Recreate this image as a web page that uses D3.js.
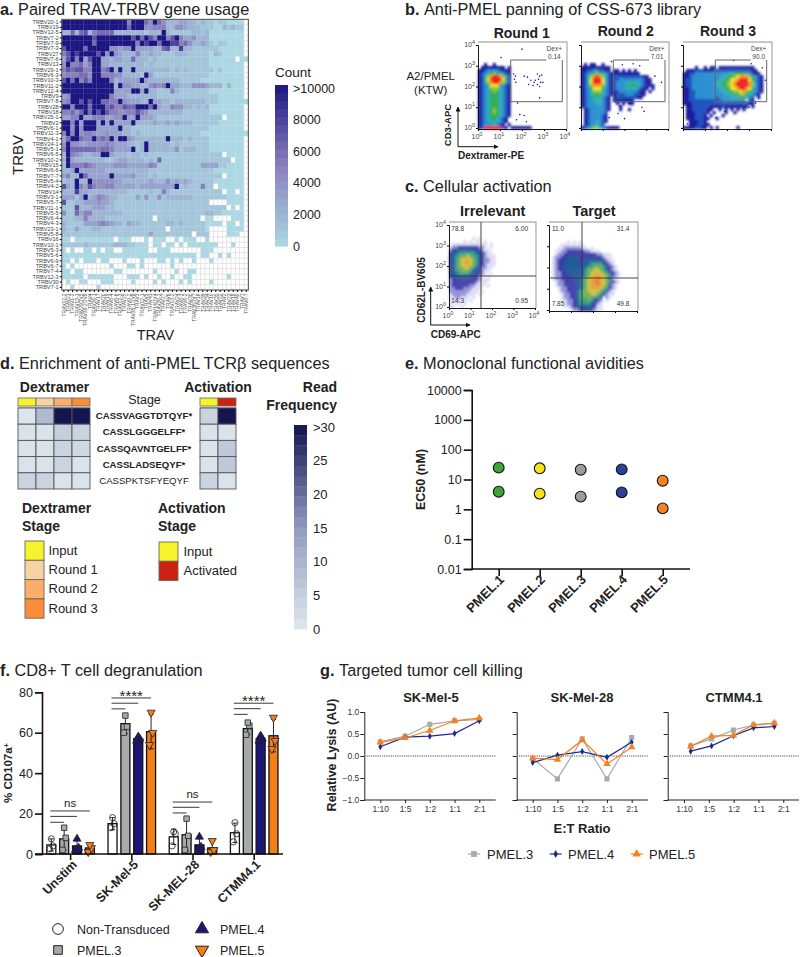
<!DOCTYPE html>
<html>
<head>
<meta charset="utf-8">
<script src="https://cdn.jsdelivr.net/npm/d3@7"></script>
<style>
body { margin: 0; background: #fff; }
text { font-family: "Liberation Sans", Arial, sans-serif; fill: #222; }
</style>
</head>
<body>
<script>
//panel a data
var trbvGenes = ["TRBV20-1","TRBV19","TRBV12-5","TRBV7-2","TRBV7-9","TRBV7-3","TRBV27","TRBV7-6","TRBV13","TRBV29-1","TRBV6-3","TRBV10-3","TRBV11-2","TRBV12-4","TRBV9","TRBV7-8","TRBV28","TRBV18","TRBV25-1","TRBV2","TRBV6-1","TRBV11-3","TRBV4-1","TRBV24-1","TRBV5-1","TRBV6-5","TRBV10-2","TRBV15","TRBV6-6","TRBV7-7","TRBV5-4","TRBV4-2","TRBV14","TRBV3-1","TRBV5-7","TRBV11-1","TRBV5-5","TRBV6-4","TRBV4-3","TRBV23-1","TRBV5-8","TRBV16","TRBV10-1","TRBV5-3","TRBV5-6","TRBV6-9","TRBV6-7","TRBV7-4","TRBV12-3","TRBV30","TRBV7-1"];
var travGenes = ["TRAV12-2","TRAV21","TRAV1-2","TRAV13-1","TRAV29DV5","TRAV38-2DV8","TRAV4","TRAV26-1","TRAV17","TRAV20","TRAV19","TRAV8-4","TRAV8-6","TRAV12-3","TRAV25","TRAV9-2","TRAV38-1DV8","TRAV3","TRAV12-1","TRAV5","TRAV41","TRAV14DV4","TRAV26-2","TRAV27","TRAV6","TRAV13-2","TRAV24","TRAV8-3","TRAV8-2","TRAV30","TRAV36DV7","TRAV16","TRAV39","TRAV34","TRAV10","TRAV35","TRAV22","TRAV2","TRAV23","TRAV18","TRAV40","TRAV7","TRAV8-7"];
// one row per TRBV: digit = thousands of reads, X = >10000, . = no pairs
var heatRows = [
"XXXXXXXXXX XXXXX5XXX6 4X64222332 2121101100 00.",
"XXXXXXXXXX XXXXX6XXX4 4555224432 2211100212 11.",
"2262672566 6622222221 222X211111 2212000000 00.",
"XXXXXXX7XX XXXXXX7X6X 75XX57X533 4222000000 00.",
"XXXXXXX6XX XXXXXXX5X8 XX6XX88564 2232101100 00.",
"7XXXX6XXXX X44344X333 3226722822 1111110000 00.",
"57X8XXXX7X 4X43222522 3221112221 1111021000 00.",
"37X5X37XX3 3233226222 1211111111 1111000000 .00",
"4X55635XX3 3222222221 2111111111 1111000000 00.",
"5767755XX5 6X2X22X222 2222212121 1111101000 00.",
"4555664XX5 554422221X 3111111111 1111000000 00.",
"7X6X575XXX X5233333X3 2222222111 1100000000 00.",
"XXXXXXXXXX XX2X443322 4545X33222 4443222020 00.",
"XXXXXXXXXX XX3333XX3X 2211152111 1111000000 00.",
"34XXXXXXXX X533322222 2211111111 1111110000 00.",
"45XX7X7XX6 655X433322 X332212222 2221110000 000",
"XX5XXX6XXX 6755766XXX 6X32254422 1212000000 00.",
"55646X6X7X 7554455754 2222222211 1111000000 00.",
"3355X33555 3344X33X33 3211111111 1111111.00 00.",
"XX5X3XXX3X 3X3333X222 2322323222 1111110000 00.",
"XX4X4XXX33 333X221111 1111111111 1111000000 00.",
"5X5X455433 4333221211 1111111111 1100000000 000",
"36XX655X56 5X3XX43222 2222X22212 1111000000 00.",
"4X44334444 543332212X 2222212111 1111000000 00.",
"5X66666656 653333X12X 2222224122 2111000000 00.",
"2X5432233X X322212212 1111111111 1111111.00 00.",
"2X32222222 1123322221 2161111111 111111111. 00.",
"2X55565433 3344433333 5411111111 1133331100 00.",
"223X333333 2222222222 1111111111 1111100000 00.",
"3522X63333 3X33334222 1211111111 1111111.00 00.",
"122X22X444 4433222222 3222423232 1111100000 00.",
"732X537544 5533333233 333333X121 11511.0000 00.",
"2228332222 2222211111 2115211111 1111111.00 .0.",
"3331 3X2354 3221111314 1141222222 1111111100 00.",
"7112233343 3211111111 1111111111 1111....00 00.",
"1117222333 2211111111 1111111111 11111111.0 .0.",
"4116355222 2222111111 1111111111 1112211000 00.",
"1112252222 1111111111 1.11111111 11.00....0 00.",
"2111133345 4322132211 1111221211 1110000.00 .0.",
"2113111221 1111111111 1111.11111 1110....00 00.",
"1111111111 1111111111 3111111111 .111....00 0..",
"00.0000000 00.000...0 .000..0.00 0..0...... ...",
"1111121111 1122211000 .00.00.0.0 000000...0 ...",
"0.0..00.0. 00..000000 ..000..... ..000..... ...",
"0000000000 0000000000 0000000000 0.00..0.0. ...",
"00.0.000.0 0...0...0. ..00.0.0.. 0...0..... ...",
"0.0....... .0...00.0. .....0.... .......... ...",
"00.00..... ..00...... .0....0..0 0......... ...",
"00000.0000 00...000.0 ..0..0..00 ........0. ...",
".0..00...0 00....0... .0.0...0.0 ....0..... ...",
"..0.....0. .......... .......... .......... ..."
];
var countTicks = [0, 2000, 4000, 6000, 8000, 10000];
var countColors = ["#abd8e2", "#8a80bd", "#1c1682"];

//panel b data: one string per 3px row of the plot, level 1 (sparse) to 9 (dense)
var round1Grid = ["","","","","","","","..1..1",".11111111.1","11233332111","12345654321","12468998642","12579999752","12468998642","12357775321","12346664321","12345654321","12345554321","12345554321","12345554321","12345554321","12345554321","12345654321","12345654321","12345554321","1234554321","1234444321","123334321.1","1299999921.1111111"];
var round2Grid = ["","","","","","","",".1.11..1","1111111111","1122332211.11.1.1.1","12345654321111111111","12468986421222222222211","124799974212233333333211","124799974212333444443211","1246888642123334555432111","12357775321233344443211.1","1234666432112333333211.1","1234555432112223332211","1233454321.1222222211","1233444321.1111111","1233344321..1.1.11","1233333321...1",".123333321...1..1",".12333332",".12333321",".12333321",".12334321",".1233432","1235664321111"];
var round3Grid = ["","","","","","","","","....1..1.11.111111111111",".111222111222222222222211","11223333333333344555543211","112333333333344556788865321","122333333333445577899975321","122333333334455678999986321","122333333334455678999986421","112333333333445577899875321","112233333333344556678654321","11223333333333444556654321","112233333332333344455432.1","112222222222233333333.21","111222222222222222222211",".112222221111211111111.1",".112222211..1.1.1.1.1",".11122221.1...1..1",".1112221.1...1",".11122211..1","..111221.","..1112211","11112211.1.1......1"];
// stray events outside the main population, log10 of [Dextramer, CD3]
var round1Dots = [[2,3.8],[1.05,3.4],[1.7,2.5],[1.62,2.6],[1.65,2.35],[1.72,2.2],[2.1,2.5],[2.25,2.45],[2.4,2.3],[2.3,2.1],[2.55,2.2],[2.6,2.3],[2.7,2.1],[2.75,2.35],[2.85,2.2],[2.9,2.55],[2.8,2.5],[2.7,2.6],[2.95,2.2],[2.8,2],[2.5,2.05],[2.8,1.45],[1.8,1.2],[1.9,.65],[2.1,.6],[2.2,.3],[1.75,.4]];
var round2Dots = [[1.4,3.2],[1.9,3.05],[2.4,3.1],[2.7,3],[3.7,2.2],[3.4,2.5],[1.6,1.25],[1.8,1.05],[2.2,1.2],[2.8,1],[2.9,.8],[1.7,.7],[1.3,.5],[2,.45]];
var round3Dots = [[2.3,3.25],[3.1,3.1],[3.6,2.9],[3.75,2.3],[1.5,.5],[1.9,.8],[2.2,1],[2.6,1.1],[3,1],[3.3,1.2],[.2,.2],[.5,.3]];
var dexLabels = ["0.14", "7.01", "90.0"];
var roundNames = ["Round 1", "Round 2", "Round 3"];

//panel c data
var irrelevantGrid = ["","","","","","........1.1",".....1.1.11.1",".111111111111.1","1223333333221.1","23344444433211","344555555443211","3455667655432111","3456778765432211","3456788765432211","3456778765432111","345667765432211","34556665443211","3445555443321.1","344444443321.1","23333333332111","2333333332111","233333322111.1","22333222111","2222222111.1","122222111.1","1122111.1","111111.1","1.11.1","11..1"];
var targetGrid = ["","","","","","","......1.1.1","....11111111","...1122222211.1","..112233333322111","..1223333333333322111",".12233444433333333211",".123344444344444443211",".123344444344455554321",".1233444443445566654321",".1233444444456677654321",".12233444444567777654321",".12233344444567888765321",".1223333444567889876421","..1223333445678998765321","..122333344567889876421","...12233334567888765321","...1223334566777765321","....122334566677654211","....12233456666554.21","....11223455565432.1",".....1223455554321",".....1123444444311",".......12233333211"];
var irrelevantPct = ["78.8", "6.00", "14.3", "0.95"];
var targetPct = ["11.0", "31.4", "7.85", "49.8"];

//panel d data
var sequences = ["CASSVAGGTDTQYF*", "CASSLGGGELFF*", "CASSQAVNTGELFF*", "CASSLADSEQYF*", "CASSPKTSFYEQYF"];
var dexFreq = [[0.5,9,30,30],[1,1,5,4],[1,1,4,3],[1,1,4,1],[4,4,1,1]];
var actFreq = [[4,30],[1,1],[1,6],[1,6],[4,1]];
var dexStages = ["Input", "Round 1", "Round 2", "Round 3"];
var dexStageColors = ["#f7f32a", "#f6d2a5", "#fbae6b", "#f98d38"];
var actStages = ["Input", "Activated"];
var actStageColors = ["#f7f32a", "#cc2211"];
var freqTicks = [0, 5, 10, 15, 20, 25, 30];
var freqColors = ["#dfe8ec", "#8f9abf", "#14144f"];

//panel e data
var clones = ["PMEL.1", "PMEL.2", "PMEL.3", "PMEL.4", "PMEL.5"];
var ec50High = [25, 23.7, 21.3, 21.9, 9.1];
var ec50Low = [3.9, 3.35, 2.66, 3.7, 1.08];
var cloneColors = ["#3da535", "#f7e31a", "#9c9c9e", "#2a409b", "#f5821f"];
var ec50Ticks = [0.01, 0.1, 1, 10, 100, 1000, 10000];

//panel f data
var targets = ["Unstim", "SK-Mel-5", "SK-MEL-28", "CTMM4.1"];
var groups = ["Non-Transduced", "PMEL.3", "PMEL.4", "PMEL.5"];
var groupColors = ["#ffffff", "#a7a9ac", "#1b1677", "#f57f17"];
var barMeans = [[4.5,15,8.5,10.5],[7.5,64.5,9.5,62],[4,57,4.5,57],[3,60.5,3,58.5]];
var barErrs = [[3,3,3.8,4.8],[5.5,5,8,3],[3.5,1,4,1],[2,8.5,3.5,8]];
var barPoints = [
  [[2.5,4,7.5],[13,15,18],[4,10,11],[6,10,15.5]],
  [[2,8,13],[60,63,68.5],[2,9,17.5],[59,63.5,65]],
  [[2,3,7.5],[56,57,58],[1,3.5,8.5],[56,57,58.5]],
  [[1,3,4.5],[54,60,70],[1,2,6.5],[52,56,67.5]]
];
var sigLevels = [[15.7,18.6,21.3],[71.8,74.6,77.2],[20.3,23.1,25.7],[69.1,71.9,74.6]];
var sigText = ["ns", "****", "ns", "****"];

//panel g data
var ratios = ["1:10", "1:5", "1:2", "1:1", "2:1"];
var lysisCells = ["SK-Mel-5", "SK-Mel-28", "CTMM4.1"];
var lysisClones = ["PMEL.3", "PMEL.4", "PMEL.5"];
var lysisColors = ["#a7a9ac", "#1f2a8c", "#f58220"];
var lysisTicks = [-1, -0.5, 0, 0.5, 1];
var lysisPos = [[0,1,2,3,4],[0,1,2,3,4],[.27,1.11,1.99,2.8,3.64]];
var lysis = [
  [[.32,.45,.72,.8,.83],[.21,.43,.45,.51,.8],[.31,.41,.58,.8,.86]],
  [[-.06,-.52,.39,-.52,.42],[-.15,.02,.1,-.03,.31],[-.05,-.08,.36,-.18,.2]],
  [[.23,.39,.59,.7,.74],[.11,.23,.46,.64,.67],[.22,.45,.47,.71,.75]]
];

var svg = d3.select("body").append("svg").attr("width", 800).attr("height", 957);

var defs = svg.append("defs");
defs.append("marker").attr("id", "arrow").attr("viewBox", "0 0 10 10").attr("refX", 9).attr("refY", 5)
    .attr("markerWidth", 5).attr("markerHeight", 5).attr("orient", "auto")
    .append("path").attr("d", "M0,0L10,5L0,10z").attr("fill", "#111");
defs.append("filter").attr("id", "soft").attr("x", "-5%").attr("y", "-5%").attr("width", "110%").attr("height", "110%")
    .append("feGaussianBlur").attr("stdDeviation", 0.9);

function label(x, y, str, size, opts) {
  opts = opts || {};
  var t = svg.append("text").attr("x", x).attr("y", y).attr("font-size", size).text(str);
  if (opts.bold) t.attr("font-weight", "bold");
  if (opts.anchor) t.attr("text-anchor", opts.anchor);
  if (opts.rotate) t.attr("transform", "rotate(" + opts.rotate + "," + x + "," + y + ")");
  if (opts.fill) t.style("fill", opts.fill);
  return t;
}

function title(x, y, letter, rest) {
  var t = svg.append("text").attr("x", x).attr("y", y).attr("font-size", 16.3);
  t.append("tspan").attr("font-weight", "bold").text(letter + " ");
  t.append("tspan").text(rest);
}

title(0, 15, "a.", "Paired TRAV-TRBV gene usage");
title(405, 15, "b.", "Anti-PMEL panning of CSS-673 library");
title(405, 192, "c.", "Cellular activation");
title(0, 369, "d.", "Enrichment of anti-PMEL TCR\u03b2 sequences");
title(405, 369, "e.", "Monoclonal functional avidities");
title(0, 676, "f.", "CD8+ T cell degranulation");
title(320, 676, "g.", "Targeted tumor cell killing");

/* ---------- a. heatmap ---------- */
var heatX = d3.scaleBand().domain(travGenes).range([61.7, 248.4]);
var heatY = d3.scaleBand().domain(trbvGenes).range([19.4, 290]);
var countColor = d3.scaleLinear().domain([0, 5000, 10000]).range(countColors);

var heatCells = [];
heatRows.forEach(function(row, r) {
  row.replace(/ /g, "").split("").forEach(function(ch, c) {
    if (c >= travGenes.length) return;
    heatCells.push({ r: trbvGenes[r], c: travGenes[c], v: ch == "." ? null : (ch == "X" ? 10000 : +ch * 1000) });
  });
});

svg.append("g").selectAll("rect").data(heatCells).enter().append("rect")
    .attr("x", function(d) { return heatX(d.c); })
    .attr("y", function(d) { return heatY(d.r); })
    .attr("width", heatX.bandwidth() + (0.2))
    .attr("height", heatY.bandwidth() + (0.2))
    .attr("fill", function(d) { return d.v === null ? "#fff" : countColor(d.v); })
    .attr("stroke", function(d) { return d.v === null ? "#e2e2e2" : "none"; })
    .attr("stroke-width", 0.8);

svg.append("rect").attr("x", 61.7).attr("y", 19.4).attr("width", 186.7).attr("height", 270.6)
    .attr("fill", "none").attr("stroke", "#666").attr("stroke-width", 1.2);

var heatLeft = svg.append("g").attr("transform", "translate(61.7,0)")
    .call(d3.axisLeft(heatY).tickSize(2).tickPadding(1));
heatLeft.select(".domain").remove();
heatLeft.selectAll("text").attr("font-size", 5.6).style("font-family", "Liberation Sans").style("fill", "#444");

var heatBottom = svg.append("g").attr("transform", "translate(0,290)")
    .call(d3.axisBottom(heatX).tickSize(2));
heatBottom.select(".domain").remove();
heatBottom.selectAll("text")
    .attr("transform", "rotate(-90)").attr("x", -3.5).attr("y", 0).attr("dy", "0.35em")
    .attr("text-anchor", "end").attr("font-size", 5).style("font-family", "Liberation Sans").style("fill", "#555");

label(23, 155, "TRBV", 15, { anchor: "middle", rotate: -90 });
label(155.5, 340, "TRAV", 14.5, { anchor: "middle" });
label(275, 77, "Count", 13.5);

var countY = d3.scaleLinear().domain([0, 10000]).range([246, 88]);
var countBins = d3.range(0, 10000, 500);
svg.append("g").selectAll("rect").data(countBins).enter().append("rect")
    .attr("x", 275).attr("width", 13)
    .attr("y", function(d) { return countY(d + 500) - 3 * (d + 500) / 10000 + 0; })
    .attr("height", 8.6)
    .attr("fill", function(d) { return countColor(d + 250); });
svg.append("g").selectAll("text").data(countTicks).enter().append("text")
    .attr("x", 293).attr("y", function(d) { return countY(d) + 4.5; })
    .attr("font-size", 12.5)
    .text(function(d) { return d == 10000 ? ">10000" : d; });

/* ---------- b, c. flow plots ---------- */
var flowPalette = ["", "#1a1a9c", "#2452c0", "#2a8fd0", "#2bb0b8", "#35ad5a", "#8cc63f", "#f0e31c", "#f8931d", "#ed1c24"];
var softPalette = ["", "#dcdcf2", "#8f8fd8", "#3a3aa8", "#1f5a98", "#2f9a88", "#6aae50", "#c8c038", "#e89a30", "#e07a28"];

function flowPanel(o) {
  var g = svg.append("g");
  var cellW = (o.x1 - o.x0) / 30, cellH = (o.y1 - o.y0) / 29;
  var cells = [];
  o.grid.forEach(function(row, r) {
    row.split("").forEach(function(ch, c) {
      if (ch != "." && ch != " ") cells.push({ r: r, c: c, l: +ch });
    });
  });
  g.append("g").attr("filter", "url(#soft)").selectAll("rect").data(cells).enter().append("rect")
      .attr("x", function(d) { return o.x0 + d.c * cellW; })
      .attr("y", function(d) { return o.y0 + d.r * cellH; })
      .attr("width", cellW + 0.2).attr("height", cellH + 0.2)
      .attr("fill", function(d) { return o.palette[d.l]; });

  var x = d3.scaleLog().domain([1, 10000]).range([o.x0, o.x1 - 1]);
  var y = d3.scaleLog().domain([1, 10000]).range([o.y1 - 1, o.y0 + 3]);

  if (o.dots) {
    g.selectAll("circle").data(o.dots).enter().append("circle")
        .attr("cx", function(d) { return x(Math.pow(10, d[0])); })
        .attr("cy", function(d) { return y(Math.pow(10, d[1])); })
        .attr("r", 0.8).attr("fill", "#1a1a9c");
  }

  // gray top/right frame, black left/bottom with ticks
  g.append("path").attr("d", "M" + o.x0 + "," + o.y0 + "H" + o.x1 + "V" + o.y1)
      .attr("fill", "none").attr("stroke", "#b5b5b5").attr("stroke-width", 1.4);
  var decades = [1, 10, 100, 1000, 10000];
  var ax = g.append("g").attr("transform", "translate(0," + o.y1 + ")")
      .call(d3.axisBottom(x).tickValues(decades).tickSize(2).tickFormat(""));
  var ay = g.append("g").attr("transform", "translate(" + o.x0 + ",0)")
      .call(d3.axisLeft(y).tickValues(decades).tickSize(2).tickFormat(""));
  ax.select(".domain").attr("stroke-width", 0.9);
  ay.select(".domain").attr("stroke-width", 0.9);

  if (o.tickLabels) {
    decades.forEach(function(v, i) {
      var tx = svg.append("text").attr("x", x(v) - 1).attr("y", o.y1 + 10)
          .attr("font-size", 7).attr("text-anchor", "middle").style("fill", "#444").text("10");
      tx.append("tspan").attr("dy", -3).attr("font-size", 5.5).style("fill", "#444").text(i);
      var ty = svg.append("text").attr("x", o.x0 - 3).attr("y", y(v) + 2)
          .attr("font-size", 7).attr("text-anchor", "end").style("fill", "#444").text("10");
      ty.append("tspan").attr("dy", -3).attr("font-size", 5.5).style("fill", "#444").text(i);
    });
  }
  return { x: x, y: y, g: g };
}

function gate(x0, x1, labelText) {
  var y0 = 60, y1 = 101.7;
  svg.append("path").attr("d", "M" + (x1 - 16) + "," + y0 + "H" + x0 + "V" + y1 + "H" + x1 + "V" + y0)
      .attr("fill", "none").attr("stroke", "#666").attr("stroke-width", 1);
  label(x1 - 8, 50.5, "Dex+", 6.5, { anchor: "middle", fill: "#444" });
  label(x1 - 8, 59, labelText, 6.5, { anchor: "middle", fill: "#444" });
}

flowPanel({ x0: 478, x1: 567, y0: 42, y1: 129, grid: round1Grid, dots: round1Dots, palette: flowPalette, tickLabels: true });
flowPanel({ x0: 581, x1: 669, y0: 42, y1: 129, grid: round2Grid, dots: round2Dots, palette: flowPalette });
flowPanel({ x0: 683, x1: 772, y0: 42, y1: 129, grid: round3Grid, dots: round3Dots, palette: flowPalette });
gate(510.7, 562.3, dexLabels[0]);
gate(613.3, 665, dexLabels[1]);
gate(715.3, 766.7, dexLabels[2]);

label(521.7, 38, roundNames[0], 14, { bold: true, anchor: "middle" });
label(625.7, 36, roundNames[1], 14, { bold: true, anchor: "middle" });
label(728, 36, roundNames[2], 14, { bold: true, anchor: "middle" });
label(430.7, 80, "A2/PMEL", 11.5, { anchor: "middle" });
label(430.7, 94, "(KTW)", 11.5, { anchor: "middle" });
label(451, 125, "CD3-APC", 9.5, { bold: true, anchor: "middle", rotate: -90 });
label(458, 159, "Dextramer-PE", 10, { bold: true });
svg.append("path").attr("d", "M458,146.7V107").attr("stroke", "#111").attr("stroke-width", 1).attr("marker-end", "url(#arrow)");
svg.append("path").attr("d", "M458,146.7H498").attr("stroke", "#111").attr("stroke-width", 1).attr("marker-end", "url(#arrow)");

function quadrants(p, vx, hy, pct, xs, ys) {
  svg.append("path").attr("d", "M" + vx + "," + p.y0 + "V" + p.y1 + "M" + p.x0 + "," + hy + "H" + p.x1)
      .attr("stroke", "#333").attr("stroke-width", 0.9).attr("fill", "none");
  pct.forEach(function(s, i) {
    label(xs[i % 2], ys[i < 2 ? 0 : 1], s, 6.5, { anchor: "middle", fill: "#333" });
  });
}

var irrBox = { x0: 449, x1: 536, y0: 222, y1: 308, grid: irrelevantGrid, palette: softPalette, tickLabels: true };
var tarBox = { x0: 549, x1: 638, y0: 222, y1: 311, grid: targetGrid, palette: softPalette };
flowPanel(irrBox);
flowPanel(tarBox);
quadrants(irrBox, 481, 276, irrelevantPct, [457.7, 521.7], [231, 303]);
quadrants(tarBox, 582, 278, targetPct, [558, 623], [231, 306]);

label(492.7, 216, "Irrelevant", 14.5, { bold: true, anchor: "middle" });
label(594, 216, "Target", 14.5, { bold: true, anchor: "middle" });
label(425, 290, "CD62L-BV605", 10, { bold: true, anchor: "middle", rotate: -90 });
label(430.7, 337.7, "CD69-APC", 10, { bold: true });
svg.append("path").attr("d", "M430.7,325V287").attr("stroke", "#111").attr("stroke-width", 1).attr("marker-end", "url(#arrow)");
svg.append("path").attr("d", "M430.7,325H470").attr("stroke", "#111").attr("stroke-width", 1).attr("marker-end", "url(#arrow)");

/* ---------- d. TCR beta heatmap ---------- */
var freqColor = d3.scaleLinear().domain([0, 15, 30]).range(freqColors);
var rowY = d3.scaleBand().domain(sequences).range([408, 489]);
var dexX = d3.scaleBand().domain(dexStages).range([18, 90]);
var actX = d3.scaleBand().domain(actStages).range([200, 236]);

function freqBlock(xScale, stages, colors, values) {
  svg.append("g").selectAll("rect").data(stages).enter().append("rect")
      .attr("x", function(d) { return xScale(d); })
      .attr("y", 398).attr("width", xScale.bandwidth()).attr("height", 8)
      .attr("fill", function(d, i) { return colors[i]; })
      .attr("stroke", "#666").attr("stroke-width", 0.8);
  svg.append("rect").attr("x", xScale.range()[0]).attr("y", 406).attr("height", 2)
      .attr("width", xScale.range()[1] - xScale.range()[0]).attr("fill", "#bbb");
  var rows = svg.append("g").selectAll("g").data(values).enter().append("g")
      .attr("transform", function(d, i) { return "translate(0," + rowY(sequences[i]) + ")"; });
  rows.selectAll("rect").data(function(d) { return d; }).enter().append("rect")
      .attr("x", function(d, i) { return xScale(stages[i]); })
      .attr("width", xScale.bandwidth()).attr("height", rowY.bandwidth())
      .attr("fill", function(d) { return freqColor(d); })
      .attr("stroke", "#555").attr("stroke-width", 0.9);
}
freqBlock(dexX, dexStages, dexStageColors, dexFreq);
freqBlock(actX, actStages, actStageColors, actFreq);

label(54.5, 392, "Dextramer", 14, { bold: true, anchor: "middle" });
label(218, 392, "Activation", 14, { bold: true, anchor: "middle" });
label(144.5, 404, "Stage", 12.5, { anchor: "middle" });
svg.append("g").selectAll("text").data(sequences).enter().append("text")
    .attr("x", 144).attr("y", function(d) { return rowY(d) + rowY.bandwidth() / 2 + 3; })
    .attr("text-anchor", "middle").attr("font-size", 9.6)
    .attr("font-weight", function(d) { return d.indexOf("*") > 0 ? "bold" : "normal"; })
    .text(function(d) { return d; });

label(22, 513, "Dextramer", 14, { bold: true });
label(22, 531, "Stage", 14, { bold: true });
label(158, 513, "Activation", 14, { bold: true });
label(158, 531, "Stage", 14, { bold: true });

function stageLegend(x, y0, h, names, colors, tx) {
  var yy = d3.scaleBand().domain(names).range([y0, y0 + h * names.length]);
  svg.append("g").selectAll("rect").data(names).enter().append("rect")
      .attr("x", x).attr("y", function(d) { return yy(d); })
      .attr("width", 19).attr("height", yy.bandwidth())
      .attr("fill", function(d, i) { return colors[i]; })
      .attr("stroke", "#666").attr("stroke-width", 0.9);
  svg.append("g").selectAll("text").data(names).enter().append("text")
      .attr("x", tx).attr("y", function(d) { return yy(d) + yy.bandwidth() / 2 + 4; })
      .attr("font-size", 13).text(function(d) { return d; });
}
stageLegend(25, 541, 19.3, dexStages, dexStageColors, 48.5);
stageLegend(159, 542, 19.3, actStages, actStageColors, 183.5);

label(337, 392, "Read", 14, { bold: true, anchor: "end" });
label(337, 410, "Frequency", 14, { bold: true, anchor: "end" });

var freqY = d3.scaleLinear().domain([0, 30]).range([629, 427]);
var freqBins = d3.range(0, 30, 1.5);
svg.append("g").selectAll("rect").data(freqBins).enter().append("rect")
    .attr("x", 294).attr("width", 13)
    .attr("y", function(d) { return freqY(d + 1.5) - 2.0 * (d + 1.5) / 30 - 0; })
    .attr("height", 10.5)
    .attr("fill", function(d) { return freqColor(d + 0.75); });
svg.append("g").selectAll("text").data(freqTicks).enter().append("text")
    .attr("x", 313).attr("y", function(d) { return freqY(d) + 4.5; })
    .attr("font-size", 13)
    .text(function(d) { return d == 30 ? ">30" : d; });

/* ---------- e. EC50 ---------- */
var ecX = d3.scalePoint().domain(clones).range([498.7, 662.7]);
var ecY = d3.scaleLog().domain([0.01, 10000]).range([569, 390]);

var ecAxisY = svg.append("g").attr("transform", "translate(471.7,0)")
    .call(d3.axisLeft(ecY).tickValues(ec50Ticks).tickSize(8).tickPadding(2).tickFormat(function(d) { return d; }));
var ecAxisX = svg.append("g").attr("transform", "translate(0,569)")
    .call(d3.axisBottom(ecX).tickSize(7).tickPadding(3));
ecAxisX.select(".domain").attr("d", "M471.7,0H690");
[ecAxisX, ecAxisY].forEach(function(a) {
  a.selectAll("line,path").attr("stroke-width", 1.6).attr("stroke", "#111");
});
ecAxisY.selectAll("text").attr("font-size", 12.5).style("font-family", "Liberation Sans").style("fill", "#222");
ecAxisX.selectAll("text").attr("font-size", 13).attr("font-weight", "bold")
    .style("font-family", "Liberation Sans").style("fill", "#222")
    .attr("text-anchor", "end").attr("transform", "rotate(-45)").attr("x", -4).attr("y", 12).attr("dy", 0);

[ec50High, ec50Low].forEach(function(series) {
  svg.append("g").selectAll("circle").data(series).enter().append("circle")
      .attr("cx", function(d, i) { return ecX(clones[i]); })
      .attr("cy", function(d) { return ecY(d); })
      .attr("r", 5.4)
      .attr("fill", function(d, i) { return cloneColors[i]; })
      .attr("stroke", "#111").attr("stroke-width", 1.1);
});
label(425, 479.5, "EC50 (nM)", 12.5, { bold: true, anchor: "middle", rotate: -90 });

/* ---------- f. degranulation ---------- */
var fx = d3.scaleBand().domain(targets).range([40, 284.8]);
var fInner = d3.scaleBand().domain(groups).range([0, 51.4]).paddingInner(0.3).paddingOuter(0.15);
var fy = d3.scaleLinear().domain([0, 80]).range([854, 692.3]);
var shapes = [d3.symbolCircle, d3.symbolSquare, d3.symbolTriangle, d3.symbolTriangle];
var sizes = [30, 30, 28, 28];
var jitter = [-1.6, 1.6, 0];

function barX(t, g) { return fx(targets[t]) + fx.bandwidth() / 2 - 25.7 + fInner(groups[g]); }

groups.forEach(function(name, g) {
  var lay = svg.append("g");
  lay.selectAll("rect").data(barMeans[g]).enter().append("rect")
      .attr("x", function(d, t) { return barX(t, g); })
      .attr("y", function(d) { return fy(d); })
      .attr("width", fInner.bandwidth())
      .attr("height", function(d) { return fy(0) - fy(d); })
      .attr("fill", groupColors[g]).attr("stroke", "#111").attr("stroke-width", 1.3);
  // error bars
  lay.selectAll("path.err").data(barMeans[g]).enter().append("path").attr("class", "err")
      .attr("d", function(d, t) {
        var cx = barX(t, g) + fInner.bandwidth() / 2, e = barErrs[g][t];
        return "M" + (cx - 2.5) + "," + fy(d + e) + "H" + (cx + 2.5) + "M" + cx + "," + fy(d + e) + "V" + fy(Math.max(0, d - e)) + "M" + (cx - 2.5) + "," + fy(Math.max(0, d - e)) + "H" + (cx + 2.5);
      })
      .attr("fill", "none").attr("stroke", "#111").attr("stroke-width", 0.9);
  barPoints[g].forEach(function(pts, t) {
    lay.selectAll("path.pt" + t).data(pts).enter().append("path").attr("class", "pt" + t)
        .attr("d", d3.symbol().type(shapes[g]).size(sizes[g]))
        .attr("transform", function(d, i) {
          var cx = barX(t, g) + fInner.bandwidth() / 2 + jitter[i];
          return "translate(" + cx + "," + fy(d) + ")" + (g == 3 ? " rotate(180)" : "");
        })
        .attr("fill", g == 0 ? "none" : groupColors[g])
        .attr("stroke", "#222").attr("stroke-width", 0.8);
  });
});

var fAxisY = svg.append("g").attr("transform", "translate(42,0)")
    .call(d3.axisLeft(fy).tickValues([0, 20, 40, 60, 80]).tickSize(7).tickPadding(2));
var fAxisX = svg.append("g").attr("transform", "translate(0,854)")
    .call(d3.axisBottom(fx).tickSize(6));
fAxisX.select(".domain").attr("d", "M35,0H283");
[fAxisX, fAxisY].forEach(function(a) { a.selectAll("line,path").attr("stroke-width", 1.6).attr("stroke", "#111"); });
fAxisY.selectAll("text").attr("font-size", 12.5).style("font-family", "Liberation Sans").style("fill", "#222");
fAxisX.selectAll("text").attr("font-size", 12.5).attr("font-weight", "bold")
    .style("font-family", "Liberation Sans").style("fill", "#222")
    .attr("text-anchor", "end").attr("transform", "rotate(-45)").attr("x", -3).attr("y", 13).attr("dy", 0);

sigLevels.forEach(function(levels, t) {
  var x0 = barX(t, 0) + fInner.bandwidth() / 2 - 1;
  levels.forEach(function(v, i) {
    var x1 = barX(t, i + 1) + fInner.bandwidth() / 2 + 0;
    svg.append("line").attr("x1", x0).attr("x2", x1).attr("y1", fy(v)).attr("y2", fy(v))
        .attr("stroke", "#222").attr("stroke-width", 0.9);
  });
  var mid = (x0 + barX(t, 3) + fInner.bandwidth() / 2) / 2;
  if (sigText[t] == "ns") label(mid, fy(levels[2]) - 4, sigText[t], 11.5, { anchor: "middle" });
  else label(mid, fy(levels[2]) + 3, sigText[t], 15, { anchor: "middle" });
});

var yLab = label(12, 773, "% CD107a", 11.5, { bold: true, anchor: "middle", rotate: -90 });
yLab.append("tspan").attr("dy", -3).attr("font-size", 7.5).text("+");

var fLegend = [[58, 929], [58, 950], [202, 929], [202, 950]];
groups.forEach(function(name, g) {
  svg.append("path").attr("d", d3.symbol().type(shapes[g]).size(g == 0 ? 90 : 75))
      .attr("transform", "translate(" + fLegend[g][0] + "," + fLegend[g][1] + ")" + (g == 3 ? " rotate(180)" : ""))
      .attr("fill", groupColors[g]).attr("stroke", "#222").attr("stroke-width", 1);
  label(fLegend[g][0] + (g < 2 ? 19 : 18), fLegend[g][1] + 4.5, name, 12.5);
});

/* ---------- g. killing ---------- */
var lysisRanges = [[380.3, 479.3], [532.7, 631.7], [684, 783.3]];
var lysisAxisX = [364.3, 516.7, 667.7];
var lysisEnd = [495.7, 648, 799];
var titleX = [431, 582, 734];
var ly = d3.scaleLinear().domain([-1, 1]).range([800, 712]);
var lysisShapes = [d3.symbolSquare, d3.symbolDiamond, d3.symbolTriangle];
var lysisSizes = [26, 14, 24];

lysisCells.forEach(function(cell, p) {
  var lx = d3.scaleLinear().domain([0, 4]).range(lysisRanges[p]);
  var xAxis = svg.append("g").attr("transform", "translate(0,800)")
      .call(d3.axisBottom(lx).tickValues(d3.range(ratios.length)).tickSize(3).tickPadding(3)
        .tickFormat(function(d) { return ratios[d]; }));
  xAxis.select(".domain").attr("d", "M" + lysisAxisX[p] + ",0H" + lysisEnd[p]);
  var yAxis = svg.append("g").attr("transform", "translate(" + lysisAxisX[p] + ",0)")
      .call(d3.axisLeft(ly).tickValues(lysisTicks).tickSize(4).tickPadding(1)
        .tickFormat(function(d) { return p == 0 ? d3.format(".1f")(d) : ""; }));
  [xAxis, yAxis].forEach(function(a) {
    a.selectAll("line,path").attr("stroke", "#222").attr("stroke-width", 1);
    a.selectAll("text").attr("font-size", 8.5).style("font-family", "Liberation Sans").style("fill", "#333");
  });
  svg.append("line").attr("x1", lysisAxisX[p]).attr("x2", lysisEnd[p]).attr("y1", ly(0)).attr("y2", ly(0))
      .attr("stroke", "#888").attr("stroke-width", 1.4).attr("stroke-dasharray", "1.2,1");

  lysisClones.forEach(function(name, s) {
    var line = d3.line().x(function(d, i) { return lx(lysisPos[p][i]); }).y(function(d) { return ly(d); });
    svg.append("path").datum(lysis[p][s]).attr("d", line)
        .attr("fill", "none").attr("stroke", lysisColors[s]).attr("stroke-width", 1.2);
    svg.append("g").selectAll("path").data(lysis[p][s]).enter().append("path")
        .attr("d", d3.symbol().type(lysisShapes[s]).size(lysisSizes[s]))
        .attr("transform", function(d, i) { return "translate(" + lx(lysisPos[p][i]) + "," + ly(d) + ")"; })
        .attr("fill", lysisColors[s]);
  });
  label(titleX[p], 702, cell, 13, { bold: true, anchor: "middle" });
});

label(336, 755, "Relative Lysis (AU)", 12.5, { bold: true, anchor: "middle", rotate: -90 });
label(582, 833, "E:T Ratio", 13, { bold: true, anchor: "middle" });

var legendMark = [474, 555.7, 636.7];
var legendText = [487, 568, 649];
lysisClones.forEach(function(name, s) {
  svg.append("line").attr("x1", legendMark[s] - 6).attr("x2", legendMark[s] + 6).attr("y1", 854).attr("y2", 854)
      .attr("stroke", lysisColors[s]).attr("stroke-width", 1.2);
  svg.append("path").attr("d", d3.symbol().type(lysisShapes[s]).size(lysisSizes[s] * 1.3))
      .attr("transform", "translate(" + legendMark[s] + ",854)").attr("fill", lysisColors[s]);
  label(legendText[s], 858.5, name, 13);
});
</script>
</body>
</html>
